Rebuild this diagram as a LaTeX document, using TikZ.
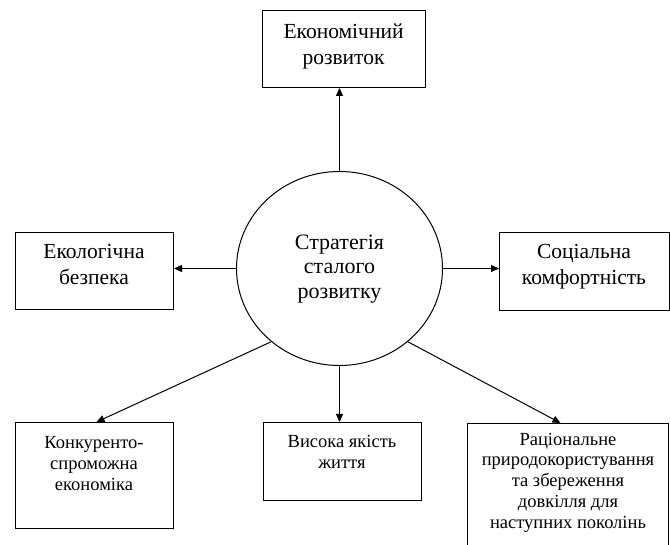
\documentclass[tikz,border=0pt]{standalone}
\usepackage{fontspec}
\setmainfont{Liberation Serif}
\usetikzlibrary{arrows.meta,shapes.geometric}
\begin{document}
\begin{tikzpicture}[x=1pt,y=-1pt,
  boxst/.style={draw,line width=1pt,inner sep=0pt,anchor=north west},
  bigtxt/.style={align=center,inner sep=0pt,anchor=base,font=\fontsize{21.5}{26}\selectfont},
  smalltxt/.style={align=center,inner sep=0pt,anchor=base,font=\fontsize{18.5}{20.8}\selectfont},
  conn/.style={line width=1pt,-{Triangle[length=8pt,width=7pt]}}]
\clip (0,0) rectangle (670,545);
\fill[white] (0,0) rectangle (670,545);
% centre
\node[draw,ellipse,line width=1pt,minimum width=206pt,minimum height=194pt,inner sep=0pt] (ctr) at (339.5,268.5) {};
\node[bigtxt,font=\fontsize{22}{24.5}\selectfont] (ctrt) at (339.5,298.3) {Стратегія\\сталого\\розвитку};
% top
\node[boxst,minimum width=163pt,minimum height=77pt] (eco) at (262,10) {};
\node[bigtxt] (ecot) at (343.5,64.3) {Економічний\\розвиток};
% left
\node[boxst,minimum width=158pt,minimum height=77pt] (ecol) at (15,232) {};
\node[bigtxt] (ecolt) at (94,284.3) {Екологічна\\безпека};
% right
\node[boxst,minimum width=170pt,minimum height=78pt] (soc) at (499,232) {};
\node[bigtxt] (soct) at (584,284.3) {Соціальна\\комфортність};
% bottom left
\node[boxst,minimum width=158pt,minimum height=106pt] (kon) at (15,422) {};
\node[smalltxt] (kont) at (94,490) {Конкуренто-\\спроможна\\економіка};
% bottom middle
\node[boxst,minimum width=158pt,minimum height=78pt] (vys) at (263,422) {};
\node[smalltxt] (vyst) at (342,468) {Висока якість\\життя};
% bottom right
\node[boxst,minimum width=201pt,minimum height=140pt] (rac) at (467,423) {};
\node[smalltxt] (ract) at (568,528.3) {Раціональне\\природокористування\\та збереження\\довкілля для\\наступних поколінь};
% connectors
\draw[conn] (ctr.north) -- (ctr.north |- eco.south);
\draw[conn] (ctr.west) -- (ctr.west -| ecol.east);
\draw[conn] (ctr.east) -- (ctr.east -| soc.west);
\draw[conn] (ctr.south) -- (ctr.south |- vys.north);
\draw[conn] (ctr.227.4) -- ([xshift=2pt]kon.north);
\draw[conn] (ctr.313) -- ([xshift=-7.5pt]rac.north);
\end{tikzpicture}
\end{document}
